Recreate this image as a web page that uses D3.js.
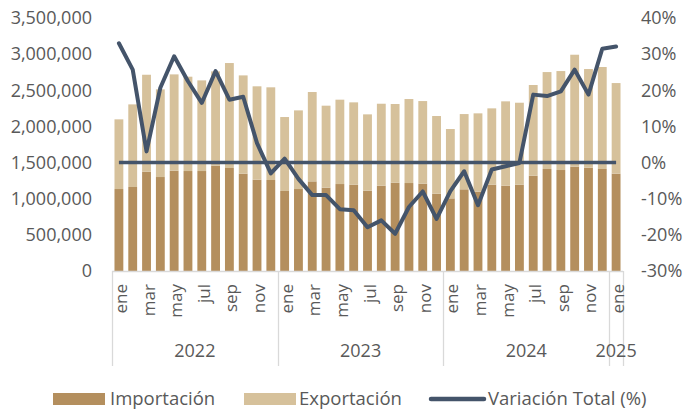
<!DOCTYPE html>
<html>
<head>
<meta charset="utf-8">
<script src="https://cdn.jsdelivr.net/npm/d3@7"></script>
<style>
    body { margin: 0; background: #fff; }
    svg text { font-family: "Open Sans", sans-serif; fill: #595959; }
</style>
</head>
<body>
<div id="chart"></div>
<script>
const years = ["2022", "2023", "2024", "2025"];
const categories = [
    "ene", "feb", "mar", "abr", "may", "jun", "jul", "ago", "sep", "oct", "nov", "dic",
    "ene", "feb", "mar", "abr", "may", "jun", "jul", "ago", "sep", "oct", "nov", "dic",
    "ene", "feb", "mar", "abr", "may", "jun", "jul", "ago", "sep", "oct", "nov", "dic",
    "ene"
];
const categoryYears = [
    "2022", "2022", "2022", "2022", "2022", "2022", "2022", "2022", "2022", "2022", "2022", "2022",
    "2023", "2023", "2023", "2023", "2023", "2023", "2023", "2023", "2023", "2023", "2023", "2023",
    "2024", "2024", "2024", "2024", "2024", "2024", "2024", "2024", "2024", "2024", "2024", "2024",
    "2025"
];

const importacion = [
    1134000, 1162000, 1374000, 1300000, 1387000, 1383000, 1383000, 1457000, 1425000, 1346000, 1263000, 1259000,
    1107000, 1134000, 1240000, 1153000, 1203000, 1194000, 1111000, 1180000, 1221000, 1217000, 1208000, 1069000,
    1005000, 1130000, 1097000, 1194000, 1180000, 1194000, 1318000, 1411000, 1397000, 1443000, 1429000, 1411000,
    1346000
];
const exportacion = [
    964000, 1143000, 1341000, 1213000, 1333000, 1305000, 1254000, 1305000, 1452000, 1360000, 1292000, 1282000,
    1023000, 1088000, 1236000, 1134000, 1167000, 1139000, 1056000, 1134000, 1089000, 1162000, 1143000, 1075000,
    959000, 1041000, 1084000, 1056000, 1167000, 1134000, 1255000, 1341000, 1369000, 1549000, 1365000, 1411000,
    1254000
];
const variacion = [
    33.0, 25.7, 3.1, 20.7, 29.4, 22.5, 16.5, 25.3, 17.4, 18.2, 5.4, -3.0,
    1.1, -4.5, -9.0, -9.0, -12.9, -13.2, -17.9, -16.0, -19.7, -12.3, -8.0, -15.6,
    -7.9, -2.4, -11.8, -1.9, -1.0, -0.1, 18.8, 18.4, 19.7, 25.7, 18.8, 31.5,
    32.1
];

const leftTicks = [0, 500000, 1000000, 1500000, 2000000, 2500000, 3000000, 3500000];
const rightTicks = [-30, -20, -10, 0, 10, 20, 30, 40];

const colorImp = "#b48f5e";
const colorExp = "#d6c19b";
const colorLine = "#44546a";

var width = 683, height = 410;
var plot = { left: 112, right: 623, top: 18, bottom: 271 };

var svg = d3.select("#chart").append("svg")
    .attr("width", width)
    .attr("height", height);

var idx = d3.range(categories.length);

var x = d3.scaleBand()
    .domain(idx)
    .range([plot.left, plot.right])
    .paddingInner(0.36)
    .paddingOuter(0.18);

var yLeft = d3.scaleLinear().domain([0, 3500000]).range([plot.bottom, plot.top]);
var yRight = d3.scaleLinear().domain([-30, 40]).range([plot.bottom, plot.top]);

// stacked bars
var stackData = idx.map(i => ({ i: i, imp: importacion[i], exp: exportacion[i] }));
var series = d3.stack().keys(["imp", "exp"])(stackData);
var colors = { imp: colorImp, exp: colorExp };

svg.append("g").selectAll("g")
    .data(series)
    .enter().append("g")
    .attr("fill", d => colors[d.key])
    .selectAll("rect")
    .data(d => d)
    .enter().append("rect")
    .attr("x", d => x(d.data.i))
    .attr("y", d => yLeft(d[1]))
    .attr("width", x.bandwidth())
    .attr("height", d => yLeft(d[0]) - yLeft(d[1]));

// left axis labels
svg.append("g").selectAll("text")
    .data(leftTicks)
    .enter().append("text")
    .attr("x", 92)
    .attr("y", d => yLeft(d))
    .attr("dy", "0.35em")
    .attr("text-anchor", "end")
    .style("font-size", "18px")
    .text(d => d3.format(",")(d));

// right axis labels
svg.append("g").selectAll("text")
    .data(rightTicks)
    .enter().append("text")
    .attr("x", 641)
    .attr("y", d => yRight(d))
    .attr("dy", "0.35em")
    .attr("text-anchor", "start")
    .style("font-size", "18px")
    .text(d => d + "%");

// category axis line and year separators
var axisColor = "#d9d9d9";
svg.append("line")
    .attr("x1", plot.left).attr("x2", plot.right)
    .attr("y1", plot.bottom + 0.5).attr("y2", plot.bottom + 0.5)
    .attr("stroke", axisColor).attr("stroke-width", 1.3);

var slot = (plot.right - plot.left) / categories.length;
var yearBounds = years.map(yr => ({
    year: yr,
    x0: plot.left + categoryYears.indexOf(yr) * slot,
    x1: plot.left + (categoryYears.lastIndexOf(yr) + 1) * slot
}));

var seps = [plot.left].concat(yearBounds.map(d => d.x1));
svg.append("g").selectAll("line")
    .data(seps)
    .enter().append("line")
    .attr("x1", d => Math.round(d) + 0.5).attr("x2", d => Math.round(d) + 0.5)
    .attr("y1", plot.bottom).attr("y2", 366)
    .attr("stroke", axisColor).attr("stroke-width", 1.3);

// month labels (every other month)
svg.append("g").selectAll("text")
    .data(idx.filter(i => i % 2 === 0))
    .enter().append("text")
    .attr("transform", i => "translate(" + (x(i) + x.bandwidth() / 2 + 8) + "," + 284 + ") rotate(-90)")
    .attr("text-anchor", "end")
    .style("font-size", "17px")
    .text(i => categories[i]);

// year labels
svg.append("g").selectAll("text")
    .data(yearBounds)
    .enter().append("text")
    .attr("x", d => (d.x0 + d.x1) / 2)
    .attr("y", 357)
    .attr("text-anchor", "middle")
    .style("font-size", "18px")
    .text(d => d.year);

// zero reference line
var cx = i => x(i) + x.bandwidth() / 2;
svg.append("line")
    .attr("x1", cx(0)).attr("x2", cx(categories.length - 1))
    .attr("y1", yRight(0)).attr("y2", yRight(0))
    .attr("stroke", colorLine)
    .attr("stroke-width", 3.5);

// variation line
var line = d3.line()
    .x(i => cx(i))
    .y(i => yRight(variacion[i]));

svg.append("path")
    .datum(idx)
    .attr("d", line)
    .attr("fill", "none")
    .attr("stroke", colorLine)
    .attr("stroke-width", 4)
    .attr("stroke-linejoin", "round")
    .attr("stroke-linecap", "round");

// legend
var legend = svg.append("g");
legend.append("rect").attr("x", 53).attr("y", 393).attr("width", 52).attr("height", 12).attr("fill", colorImp);
legend.append("text").attr("x", 110).attr("y", 399).attr("dy", "0.35em").style("font-size", "18.5px").text("Importación");
legend.append("rect").attr("x", 244).attr("y", 393).attr("width", 52).attr("height", 12).attr("fill", colorExp);
legend.append("text").attr("x", 299).attr("y", 399).attr("dy", "0.35em").style("font-size", "18.5px").text("Exportación");
legend.append("line").attr("x1", 431).attr("x2", 484).attr("y1", 399).attr("y2", 399)
    .attr("stroke", colorLine).attr("stroke-width", 4.5).attr("stroke-linecap", "round");
legend.append("text").attr("x", 488).attr("y", 399).attr("dy", "0.35em").style("font-size", "18.5px").text("Variación Total (%)");
</script>
</body>
</html>
